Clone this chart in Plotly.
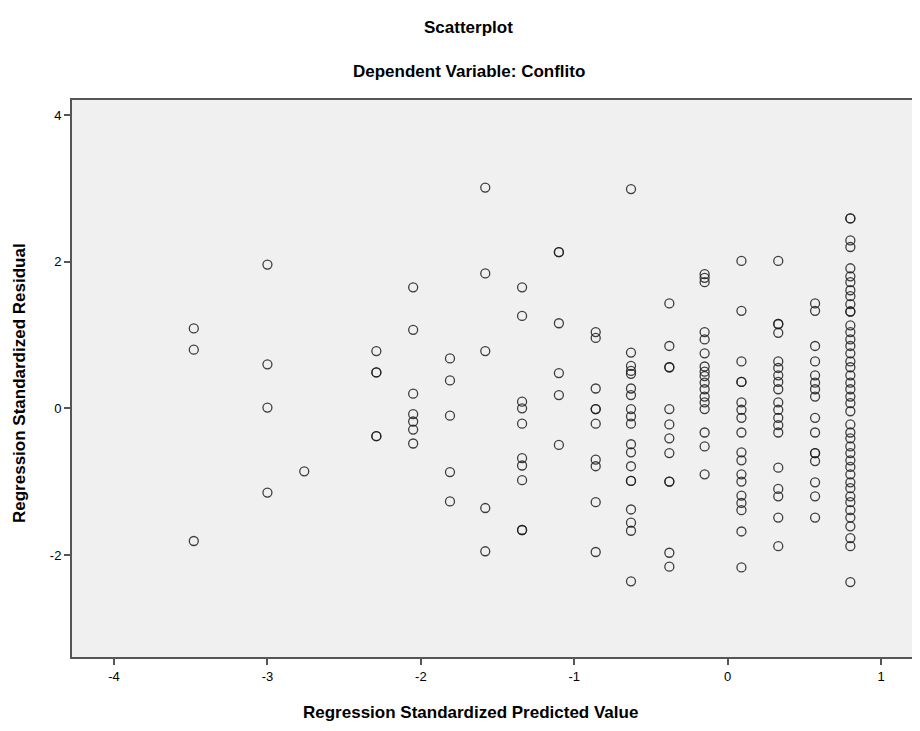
import plotly.graph_objects as go

# Predicted value levels (x) and standardized residuals observed at each level (y)
pred_levels = [-3.48, -3.00, -2.76, -2.29, -2.05, -1.81, -1.58, -1.34, -1.10,
               -0.86, -0.63, -0.38, -0.15, 0.09, 0.33, 0.57, 0.80]

res_m348 = [1.09, 0.80, -1.81]
res_m300 = [1.96, 0.60, 0.01, -1.15]
res_m276 = [-0.86]
res_m229 = [0.78, 0.49, 0.49, -0.38, -0.38]
res_m205 = [1.65, 1.07, 0.20, -0.08, -0.18, -0.29, -0.48]
res_m181 = [0.68, 0.38, -0.10, -0.87, -1.27]
res_m158 = [3.01, 1.84, 0.78, -1.36, -1.95]
res_m134 = [1.65, 1.26, 0.09, 0.00, -0.21, -0.68, -0.78, -0.98, -1.66, -1.66]
res_m110 = [2.13, 2.13, 1.16, 0.48, 0.18, -0.50]
res_m086 = [1.04, 0.96, 0.27, -0.01, -0.01, -0.21, -0.70, -0.79, -1.28, -1.96]
res_m063 = [2.99, 0.76, 0.58, 0.51, 0.47, 0.27, 0.18, -0.01, -0.11, -0.21,
            -0.49, -0.60, -0.79, -0.99, -0.99, -1.38, -1.56, -1.67, -2.36]
res_m038 = [1.43, 0.85, 0.56, 0.56, -0.01, -0.22, -0.41, -0.61, -1.00, -1.00,
            -1.97, -2.16]
res_m015 = [1.83, 1.78, 1.72, 1.04, 0.94, 0.75, 0.57, 0.50, 0.44, 0.35, 0.26,
            0.16, 0.08, -0.01, -0.33, -0.52, -0.90]
res_p009 = [2.01, 1.33, 0.64, 0.36, 0.36, 0.08, -0.02, -0.13, -0.33, -0.60,
            -0.71, -0.90, -1.00, -1.19, -1.29, -1.39, -1.68, -2.17]
res_p033 = [2.01, 1.15, 1.15, 1.03, 0.64, 0.55, 0.45, 0.36, 0.26, 0.08, -0.02,
            -0.13, -0.23, -0.33, -0.81, -1.10, -1.20, -1.49, -1.88]
res_p057 = [1.43, 1.33, 0.85, 0.64, 0.45, 0.35, 0.26, 0.16, -0.13, -0.33,
            -0.61, -0.61, -0.72, -1.01, -1.20, -1.49]
res_p080 = [2.59, 2.59, 2.29, 2.20, 1.91, 1.80, 1.72, 1.61, 1.53, 1.42, 1.32,
            1.32, 1.13, 1.04, 0.94, 0.85, 0.75, 0.64, 0.56, 0.45, 0.35, 0.26,
            0.16, 0.07, -0.04, -0.22, -0.33, -0.41, -0.52, -0.61, -0.71,
            -0.80, -0.90, -1.01, -1.09, -1.20, -1.28, -1.39, -1.49, -1.61,
            -1.77, -1.88, -2.37]

residual_groups = [res_m348, res_m300, res_m276, res_m229, res_m205, res_m181,
                   res_m158, res_m134, res_m110, res_m086, res_m063, res_m038,
                   res_m015, res_p009, res_p033, res_p057, res_p080]

x_ticks = [-4, -3, -2, -1, 0, 1]
x_tick_labels = ["-4", "-3", "-2", "-1", "0", "1"]
y_ticks = [4, 2, 0, -2]
y_tick_labels = ["4", "2", "0", "-2"]

xs, ys = [], []
for p, grp in zip(pred_levels, residual_groups):
    for r in grp:
        xs.append(p)
        ys.append(r)

FONT = "Liberation Sans, Arial, sans-serif"

fig = go.Figure()
fig.add_trace(go.Scatter(
    x=xs, y=ys, mode="markers",
    marker=dict(symbol="circle-open", size=9, color="rgba(30,30,30,0.85)",
                line=dict(width=1.3, color="rgba(30,30,30,0.85)")),
    showlegend=False, hoverinfo="x+y",
))

axis_line = "#555555"
fig.update_layout(
    width=912, height=723,
    margin=dict(l=64, r=0, t=92, b=74),
    paper_bgcolor="white",
    plot_bgcolor="#F0F0F0",
    font=dict(family=FONT, color="black", size=13),
    xaxis=dict(range=[-4.274, 1.254], tickvals=x_ticks, ticktext=x_tick_labels,
               ticks="outside", ticklen=6, tickwidth=1.5, tickcolor=axis_line,
               showline=True, linecolor=axis_line, linewidth=2, mirror=True,
               showgrid=False, zeroline=False, tickfont=dict(size=13)),
    yaxis=dict(range=[-3.392, 4.205], tickvals=y_ticks, ticktext=y_tick_labels,
               ticks="outside", ticklen=6, tickwidth=1.5, tickcolor=axis_line,
               showline=True, linecolor=axis_line, linewidth=2, mirror=False,
               showgrid=False, zeroline=False, tickfont=dict(size=13)),
)

def px_x(px):
    return (px - 72) / 848.0

def px_y(py):
    return (657 - py) / 557.0

annos = [
    dict(text="<b>Scatterplot</b>", x=px_x(468), y=px_y(27), size=17, angle=0),
    dict(text="<b>Dependent Variable: Conflito</b>", x=px_x(469), y=px_y(71), size=17, angle=0),
    dict(text="<b>Regression Standardized Predicted Value</b>", x=px_x(470), y=px_y(712), size=17, angle=0),
    dict(text="<b>Regression Standardized Residual</b>", x=px_x(19), y=px_y(383), size=17, angle=-90),
]
for a in annos:
    fig.add_annotation(text=a["text"], x=a["x"], y=a["y"], xref="paper", yref="paper",
                       showarrow=False, xanchor="center", yanchor="middle",
                       textangle=a["angle"], font=dict(size=a["size"], family=FONT, color="black"))

fig.write_html("out.html")
